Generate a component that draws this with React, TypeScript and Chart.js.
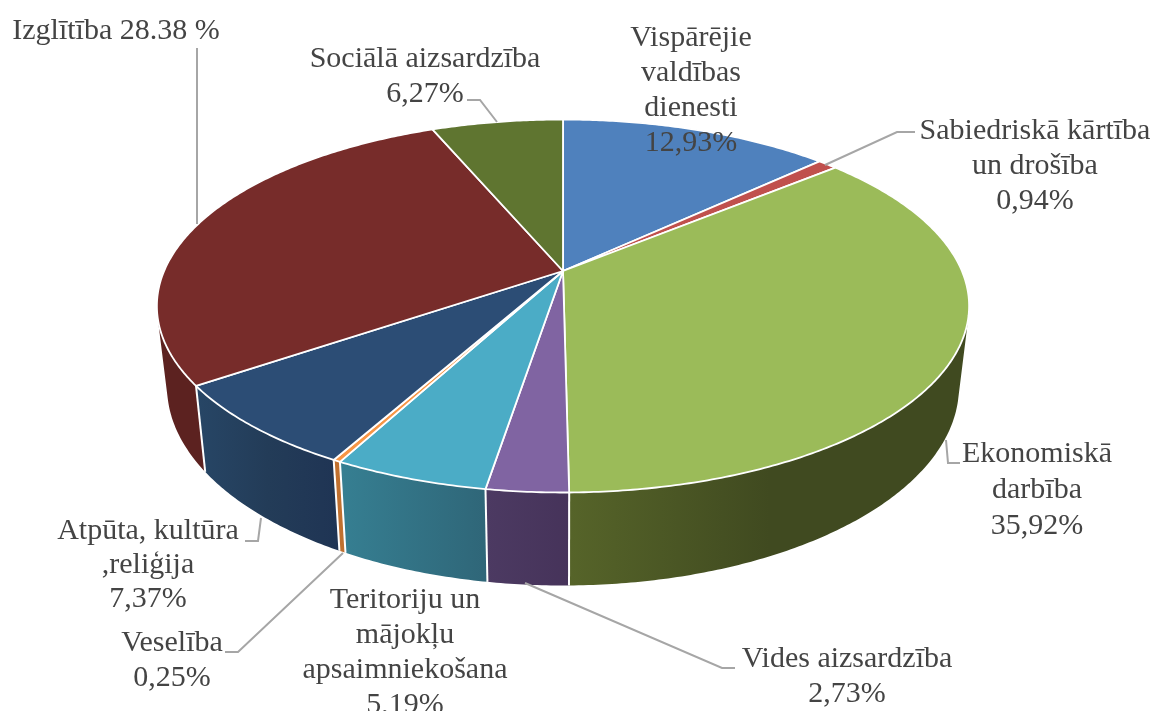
import React, { useEffect, useRef } from "react";
import { Chart, registerables } from "chart.js";

Chart.register(...registerables);

const categories = [
  "Vispārējie valdības dienesti",
  "Sabiedriskā kārtība un drošība",
  "Ekonomiskā darbība",
  "Vides aizsardzība",
  "Teritoriju un mājokļu apsaimniekošana",
  "Veselība",
  "Atpūta, kultūra ,reliģija",
  "Izglītība",
  "Sociālā aizsardzība",
];
const shares = [12.93, 0.94, 35.92, 2.73, 5.19, 0.25, 7.37, 28.38, 6.27];
const topColors = ["#4F81BD", "#C0504D", "#9BBB59", "#8064A2", "#4BACC6", "#F79646", "#2C4D75", "#772C2A", "#5F7530"];
const wallStops = [
  ["#2F4F78", "#2F4F78"],
  ["#7A3230", "#7A3230"],
  ["#566429", "#404A20", "#404A20"],
  ["#4C3A62", "#46335A"],
  ["#367F92", "#2F6678"],
  ["#C0702F", "#C0702F"],
  ["#274666", "#233C58", "#1F3454"],
  ["#5C2220", "#5C2220"],
  ["#3C4A1E", "#3C4A1E"],
];

const labelLines = [
  ["Vispārējie", "valdības", "dienesti", "12,93%"],
  ["Sabiedriskā kārtība", "un drošība", "0,94%"],
  ["Ekonomiskā", "darbība", "35,92%"],
  ["Vides aizsardzība", "2,73%"],
  ["Teritoriju un", "mājokļu", "apsaimniekošana", "5,19%"],
  ["Veselība", "0,25%"],
  ["Atpūta, kultūra", ",reliģija", "7,37%"],
  ["Izglītība 28.38 %"],
  ["Sociālā aizsardzība", "6,27%"],
];
const labelAnchors = [
  [691, 46], [1035, 139], [1037, 462], [847, 667], [405, 608], [172, 651], [148, 539], [116, 39], [425, 67],
];
const labelSteps = [35, 35, 36, 35, 35, 35, 34, 35, 35];
const leaders = [
  null,
  [[915, 132], [897, 132], [825, 165]],
  [[960, 463], [948, 463], [946, 440]],
  [[735, 668], [722, 668], [525, 583]],
  null,
  [[225, 652], [238, 652], [343, 553]],
  [[245, 541], [258, 541], [261, 518]],
  [[197, 48], [197, 224]],
  [[467, 100], [480, 100], [497, 122]],
];

const CX = 563, EY = 306, K = 0.1877, A = 398.9, B = 186.5, C = -35;
const top = (a: number) => {
  const u = Math.cos(a), v = Math.sin(a), w = 1 - K * v;
  return [CX + (A * u) / w, EY + (B * v + C) / w];
};
const bottom = (a: number) => {
  const [x, y] = top(a);
  return [CX + 0.975 * (x - CX), 1.066 * y + 60.5];
};
const arcPoints = (f: (a: number) => number[], s: number, e: number) => {
  const n = Math.max(2, Math.ceil((e - s) / 0.01));
  const pts: number[][] = [];
  for (let i = 0; i <= n; i++) pts.push(f(s + ((e - s) * i) / n));
  return pts;
};
const signedArea = (q: number[][]) => {
  let s = 0;
  q.forEach((p, i) => {
    const r = q[(i + 1) % q.length];
    s += p[0] * r[1] - r[0] * p[1];
  });
  return s;
};

const pie3d = {
  id: "pie3d",
  beforeDatasetsDraw(chart: any) {
    const ctx = chart.ctx as CanvasRenderingContext2D;
    const arcs = chart.getDatasetMeta(0).data;
    ctx.save();
    ctx.lineJoin = "round";
    arcs.forEach((arc: any, i: number) => {
      const t = arcPoints(top, arc.startAngle, arc.endAngle);
      const b = arcPoints(bottom, arc.startAngle, arc.endAngle);
      const xs = t.map((p) => p[0]).concat(b.map((p) => p[0]));
      const g = ctx.createLinearGradient(Math.min(...xs), 0, Math.max(...xs), 0);
      const stops = wallStops[i];
      stops.forEach((c, j) => g.addColorStop(j / (stops.length - 1), c));
      ctx.beginPath();
      for (let j = 0; j < t.length - 1; j++) {
        const q = [t[j], t[j + 1], b[j + 1], b[j]];
        if (signedArea(q) < 0) q.reverse();
        ctx.moveTo(q[0][0], q[0][1]);
        for (let m = 1; m < 4; m++) ctx.lineTo(q[m][0], q[m][1]);
        ctx.closePath();
      }
      ctx.fillStyle = g;
      ctx.fill("nonzero");
    });
    ctx.strokeStyle = "#FFFFFF";
    ctx.lineWidth = 2;
    arcs.forEach((arc: any) => {
      const p = top(arc.startAngle), q = bottom(arc.startAngle);
      ctx.beginPath();
      ctx.moveTo(p[0], p[1]);
      ctx.lineTo(q[0], q[1]);
      ctx.stroke();
    });
    arcs.forEach((arc: any, i: number) => {
      ctx.beginPath();
      ctx.moveTo(CX, EY + C);
      arcPoints(top, arc.startAngle, arc.endAngle).forEach((p) => ctx.lineTo(p[0], p[1]));
      ctx.closePath();
      ctx.fillStyle = topColors[i];
      ctx.fill();
      ctx.strokeStyle = "#FFFFFF";
      ctx.lineWidth = 1.8;
      ctx.stroke();
    });
    ctx.restore();
    return false;
  },
  afterDraw(chart: any) {
    const ctx = chart.ctx as CanvasRenderingContext2D;
    ctx.save();
    ctx.strokeStyle = "#A6A6A6";
    ctx.lineWidth = 2;
    leaders.forEach((l) => {
      if (!l) return;
      ctx.beginPath();
      l.forEach((p, j) => (j ? ctx.lineTo(p[0], p[1]) : ctx.moveTo(p[0], p[1])));
      ctx.stroke();
    });
    ctx.fillStyle = "#444444";
    ctx.font = '30px "Liberation Serif"';
    ctx.textAlign = "center";
    ctx.textBaseline = "alphabetic";
    labelLines.forEach((lines, i) => {
      lines.forEach((s, j) => ctx.fillText(s, labelAnchors[i][0], labelAnchors[i][1] + j * labelSteps[i]));
    });
    ctx.restore();
  },
};

export default function App() {
  const ref = useRef<HTMLCanvasElement>(null);
  useEffect(() => {
    const chart = new Chart(ref.current!, {
      type: "pie",
      data: { labels: categories, datasets: [{ data: shares, backgroundColor: topColors }] },
      options: {
        animation: false,
        responsive: false,
        plugins: { legend: { display: false }, tooltip: { enabled: false } },
      },
      plugins: [pie3d],
    } as any);
    return () => chart.destroy();
  }, []);
  return (
    <div style={{ position: "absolute", left: 0, top: 0, width: 1157, height: 711, background: "#fff", overflow: "hidden" }}>
      <canvas ref={ref} width={1157} height={711} style={{ display: "block" }} />
    </div>
  );
}
